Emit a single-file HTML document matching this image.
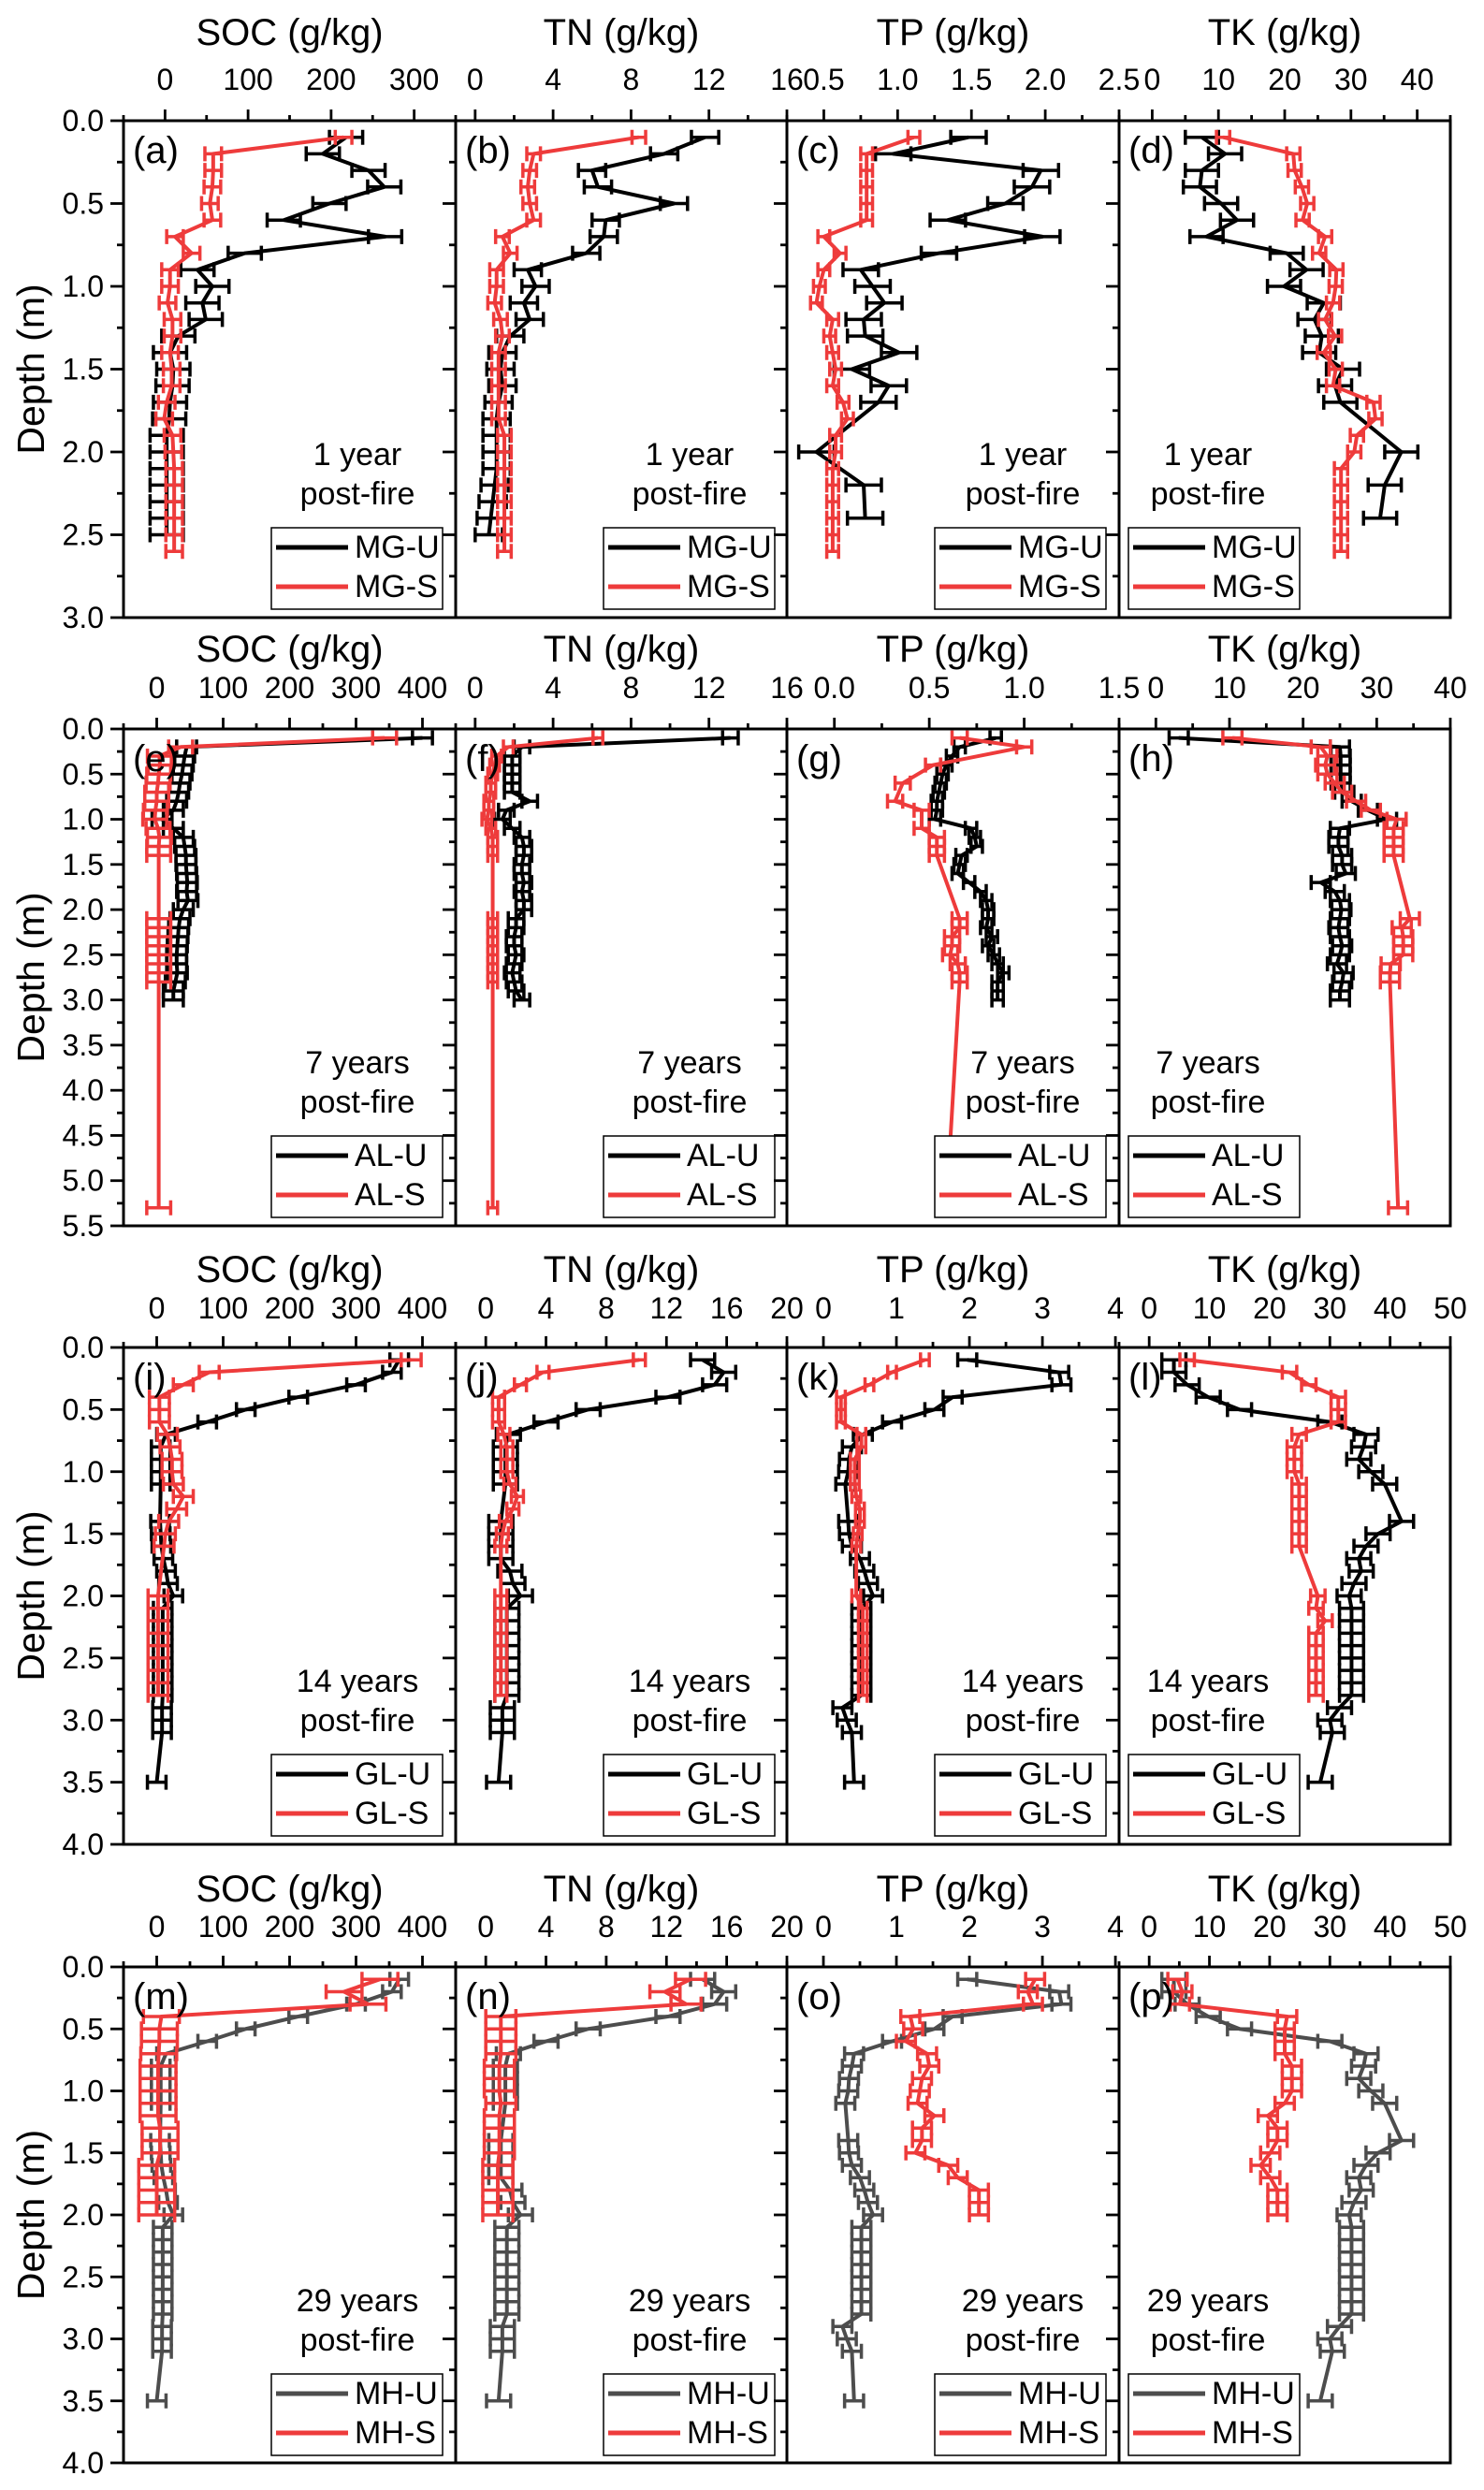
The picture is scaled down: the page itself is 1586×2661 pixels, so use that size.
<!DOCTYPE html>
<html><head><meta charset="utf-8"><title>Soil nutrient depth profiles</title>
<style>
html,body{margin:0;padding:0;background:#fff;}
svg{display:block;font-family:"Liberation Sans",Arial,sans-serif;}
</style></head>
<body>
<svg id="fig" width="1586" height="2661" viewBox="0 0 1586 2661" xmlns="http://www.w3.org/2000/svg"></svg>
<script>
// ---------- tick label arrays ----------
const socTicks1=[0,100,200,300];
const socTicks2=[0,100,200,300,400];
const tnTicks1=[0,4,8,12,16];
const tnTicks2=[0,4,8,12,16,20];
const tpTicks1=[0.5,1.0,1.5,2.0,2.5];
const tpTicks2=[0.0,0.5,1.0,1.5];
const tpTicks3=[0,1,2,3,4];
const tkTicks1=[0,10,20,30,40];
const tkTicks3=[0,10,20,30,40,50];
const depthTicks1=[0,0.5,1,1.5,2,2.5,3];
const depthTicks2=[0,0.5,1,1.5,2,2.5,3,3.5,4,4.5,5,5.5];
const depthTicks3=[0,0.5,1,1.5,2,2.5,3,3.5,4];

// ---------- depth arrays ----------
const dep25=[0.1,0.2,0.3,0.4,0.5,0.6,0.7,0.8,0.9,1.0,1.1,1.2,1.3,1.4,1.5,1.6,1.7,1.8,1.9,2.0,2.1,2.2,2.3,2.4,2.5];
const dep26=[0.1,0.2,0.3,0.4,0.5,0.6,0.7,0.8,0.9,1.0,1.1,1.2,1.3,1.4,1.5,1.6,1.7,1.8,1.9,2.0,2.1,2.2,2.3,2.4,2.5,2.6];
const dep20gap=[0.1,0.2,0.3,0.4,0.5,0.6,0.7,0.8,0.9,1.0,1.1,1.2,1.3,1.4,1.5,1.6,1.7,2.0,2.2,2.4];
const dep30=[0.1,0.2,0.3,0.4,0.5,0.6,0.7,0.8,0.9,1.0,1.1,1.2,1.3,1.4,1.5,1.6,1.7,1.8,1.9,2.0,2.1,2.2,2.3,2.4,2.5,2.6,2.7,2.8,2.9,3.0];
const depAlS=[0.1,0.2,0.3,0.4,0.5,0.6,0.7,0.8,0.9,1.0,1.1,1.2,1.3,1.4,2.1,2.2,2.3,2.4,2.5,2.6,2.7,2.8,5.3];
const depAlSg=[0.1,0.2,0.4,0.6,0.8,0.9,1.1,1.2,1.3,1.4,2.1,2.2,2.3,2.4,2.5,2.6,2.7,2.8,5.3];
const depGlU=[0.1,0.2,0.3,0.4,0.5,0.6,0.7,0.8,0.9,1.0,1.1,1.4,1.5,1.6,1.7,1.8,1.9,2.0,2.1,2.2,2.3,2.4,2.5,2.6,2.7,2.8,2.9,3.0,3.1,3.5];
const depGlS=[0.1,0.2,0.3,0.4,0.5,0.6,0.7,0.8,0.9,1.0,1.1,1.2,1.3,1.4,1.5,1.6,2.0,2.1,2.2,2.3,2.4,2.5,2.6,2.7,2.8];
const depMhS=[0.1,0.2,0.3,0.4,0.5,0.6,0.7,0.8,0.9,1.0,1.1,1.2,1.3,1.4,1.5,1.6,1.7,1.8,1.9,2.0];

// ---------- series values ----------
const aU=[218,190,245,264,198,143,265,96,39,57,45,49,16,6,10,9,6,5,2,2,2,2,2,2,2];
const aS=[215,58,58,57,54,57,12,32,6,6,3,9,9,6,8,8,2,-1,9,10,11,11,11,11,11,11];
const bU=[11.8,9.7,6.0,6.3,10.2,6.7,6.6,5.7,2.7,3.1,2.5,2.8,1.8,1.4,1.3,1.4,1.2,1.1,1.1,1.1,1.1,1.0,0.9,0.8,0.7];
const bS=[8.4,3.0,2.8,2.7,2.8,3.0,1.4,1.8,1.1,1.1,1.0,1.3,1.4,1.2,1.2,1.2,1.2,1.2,1.5,1.5,1.5,1.5,1.5,1.5,1.5,1.5];
const cU=[1.48,0.97,1.97,1.91,1.73,1.34,1.98,1.28,0.75,0.83,0.91,0.77,0.78,1.01,0.69,0.94,0.87,0.45,0.77,0.78];
const cS=[1.11,0.79,0.79,0.79,0.79,0.79,0.5,0.61,0.5,0.47,0.45,0.56,0.54,0.56,0.58,0.56,0.63,0.66,0.58,0.58,0.56,0.56,0.56,0.56,0.56,0.56];
const dU=[7.5,11,7.5,7.2,10.4,12.8,8.2,20.3,23.3,19.9,25.9,24.5,25.6,25.2,28.8,27.6,28.4,37.6,35.1,34.4];
const dS=[10.7,21.3,21.5,22.6,23.4,22.7,26.1,25.2,27.8,27.7,27.3,26.1,27.6,25.9,27.7,27.3,33.4,33.7,30.9,30.5,28.5,28.5,28.5,28.5,28.5,28.5];

const eU=[400,45,42,40,38,35,33,30,25,8,25,40,42,44,44,45,46,45,47,40,35,33,32,31,30,30,31,28,25,25];
const eS=[343,36,4,5,3,2,0,0,-2,-3,2,4,3,3,3,3,3,3,3,3,3,3,3];
const fU=[13.1,2.4,1.9,1.9,1.9,1.9,1.9,2.8,1.6,1.4,1.9,2.4,2.5,2.5,2.4,2.4,2.5,2.4,2.5,2.5,2.1,2.1,2.0,2.0,2.1,2.0,1.9,2.0,2.1,2.4];
const fS=[6.3,1.7,1.1,1.0,0.9,0.8,0.8,0.7,0.7,0.6,0.8,0.9,0.9,0.9,0.9,0.9,0.9,0.9,0.9,0.9,0.9,0.9,0.9];
const gU=[0.85,0.66,0.62,0.59,0.57,0.56,0.55,0.54,0.54,0.53,0.72,0.74,0.75,0.67,0.66,0.65,0.71,0.77,0.80,0.81,0.81,0.80,0.83,0.81,0.84,0.86,0.89,0.86,0.86,0.86];
const gS=[0.66,1.0,0.52,0.36,0.32,0.46,0.46,0.54,0.54,0.54,0.66,0.66,0.62,0.62,0.61,0.65,0.66,0.66,0.59];
const hU=[3.1,25,25.1,25.1,25.1,25.1,25.6,26.6,28.8,31.4,25,24.8,24.8,25.3,25.3,25.8,22.4,24.3,25,25.2,25,24.8,25,25.3,25,24.6,25.5,25.3,25,25];
const hS=[10.4,22.4,23.3,23,23.3,24.3,25.3,27.2,29.2,32.7,32.3,32.3,32.3,32.3,34.5,33.4,33.6,33.6,33.6,31.9,31.8,31.8,32.9];

const iU=[365,354,300,213,134,76,14,6,6,6,6,5,6,7,10,14,17,25,9,9,9,9,9,9,9,9,8,8,8,0];
const iS=[383,79,40,4,4,4,16,20,23,23,25,40,30,18,13,11,2,2,2,2,2,2,2,2,2];
const jU=[14.4,15.8,15.2,12.1,6.8,4.0,1.5,1.3,1.3,1.3,1.3,1.0,1.0,1.0,1.0,1.6,1.8,2.3,1.4,1.4,1.4,1.4,1.4,1.4,1.4,1.4,1.1,1.1,1.1,0.85];
const jS=[10.2,3.8,2.3,0.85,0.85,0.85,1.2,1.4,1.4,1.4,1.6,2.1,1.8,1.3,1.1,1.0,1.0,1.0,1.0,1.0,1.0,1.0,1.0,1.0,1.0];
const kU=[1.97,3.23,3.26,1.77,1.52,0.94,0.54,0.39,0.35,0.34,0.30,0.34,0.35,0.39,0.50,0.56,0.61,0.68,0.52,0.52,0.52,0.52,0.52,0.52,0.52,0.52,0.26,0.32,0.39,0.42];
const kS=[1.39,0.94,0.63,0.24,0.24,0.24,0.52,0.52,0.43,0.43,0.43,0.45,0.50,0.50,0.47,0.45,0.45,0.54,0.54,0.54,0.54,0.54,0.54,0.54,0.54];
const lU=[4.1,4.1,6.3,9.8,15,30,36,35.6,34.8,36.8,39.1,41.9,38,36,34.8,35.2,34,33.2,33.6,33.6,33.6,33.6,33.6,33.6,33.6,33.6,31.6,30,30.4,28.4];
const lS=[6.3,23.3,26.5,31.4,31.4,31.4,24.9,24.1,24.1,24.1,24.9,24.9,24.9,24.9,24.9,24.9,28,27.7,29.2,27.7,27.7,27.7,27.7,27.7,27.7];

const mU=[365,354,300,213,134,76,14,6,6,6,6,5,6,7,10,14,17,25,9,9,9,9,9,9,9,9,8,8,8,0];
const mS=[336,282,318,7,4,4,3,2,2,2,2,2,5,5,5,0,0,0,0,0];
const nU=[14.4,15.8,15.2,12.1,6.8,4.0,1.5,1.3,1.3,1.3,1.3,1.0,1.0,1.0,1.0,1.6,1.8,2.3,1.4,1.4,1.4,1.4,1.4,1.4,1.4,1.4,1.1,1.1,1.1,0.85];
const nS=[13.6,11.9,13.3,1.0,1.0,1.0,1.0,0.9,0.9,0.9,1.0,0.9,0.9,0.9,0.9,0.8,0.8,0.8,0.8,0.8];
const oU=[1.97,3.23,3.26,1.77,1.52,0.94,0.42,0.39,0.35,0.34,0.30,0.34,0.35,0.39,0.50,0.56,0.61,0.68,0.52,0.52,0.52,0.52,0.52,0.52,0.52,0.52,0.26,0.32,0.39,0.42];
const oS=[2.9,2.8,2.87,1.19,1.23,1.13,1.42,1.45,1.35,1.32,1.29,1.52,1.35,1.35,1.26,1.71,1.84,2.13,2.13,2.13];
const pU=[4.1,4.1,6.3,9.8,15,30,36,35.6,34.8,36.8,39.1,41.9,38,36,34.8,35.2,34,33.2,33.6,33.6,33.6,33.6,33.6,33.6,33.6,33.6,31.6,30,30.4,28.4];
const pS=[4.7,5.5,5.1,22.9,22.5,22.5,22.5,23.7,23.7,23.7,22.5,19.7,21.3,21.3,20.1,18.5,20.1,21.3,21.3,21.3];

// ---------- layout ----------
const NS="http://www.w3.org/2000/svg";
const svg=document.getElementById('fig');
const XS=[132,487,841,1196,1550];
const RED="#ee3b3b";
function el(tag,attrs,parent){const e=document.createElementNS(NS,tag);for(const k in attrs)e.setAttribute(k,attrs[k]);(parent||svg).appendChild(e);return e;}
function fmt(v,dec){return dec?v.toFixed(1):String(v);}

const rows=[
 {top:129,h:531,dmax:3,dticks:depthTicks1,titleY:35,tickY:85,age:["1 year","post-fire"],site:"MG",uCol:"#000",
  axes:[{min:-50,max:350,major:100,ticks:socTicks1,dec:false},{min:-1,max:16,major:4,ticks:tnTicks1,dec:false},{min:0.25,max:2.5,major:0.5,ticks:tpTicks1,dec:true},{min:-5,max:45,major:10,ticks:tkTicks1,dec:false}],
  series:[[dep25,aU,20,dep26,aS,10],[dep25,bU,0.7,dep26,bS,0.35],[dep20gap,cU,0.12,dep26,cS,0.04],[dep20gap,dU,2.5,dep26,dS,1.0]],
  labels:["(a)","(b)","(c)","(d)"]},
 {top:779,h:531,dmax:5.5,dticks:depthTicks2,titleY:694,tickY:735,age:["7 years","post-fire"],site:"AL",uCol:"#000",
  axes:[{min:-50,max:450,major:100,ticks:socTicks2,dec:false},{min:-1,max:16,major:4,ticks:tnTicks1,dec:false},{min:-0.25,max:1.5,major:0.5,ticks:tpTicks2,dec:true},{min:-5,max:40,major:10,ticks:tkTicks1,dec:false}],
  series:[[dep30,eU,15,depAlS,eS,18],[dep30,fU,0.4,depAlS,fS,0.25],[dep30,gU,0.03,depAlSg,gS,0.04],[dep30,hU,1.3,depAlS,hS,1.3]],
  labels:["(e)","(f)","(g)","(h)"]},
 {top:1440,h:531,dmax:4,dticks:depthTicks3,titleY:1357,tickY:1398,age:["14 years","post-fire"],site:"GL",uCol:"#000",
  axes:[{min:-50,max:450,major:100,ticks:socTicks2,dec:false},{min:-2,max:20,major:4,ticks:tnTicks2,dec:false},{min:-0.5,max:4.05,major:1,ticks:tpTicks3,dec:false},{min:-5,max:50,major:10,ticks:tkTicks3,dec:false}],
  series:[[depGlU,iU,14,depGlS,iS,15],[depGlU,jU,0.8,depGlS,jS,0.4],[depGlU,kU,0.13,depGlS,kS,0.06],[depGlU,lU,2,depGlS,lS,1.2]],
  labels:["(i)","(j)","(k)","(l)"]},
 {top:2102,h:530,dmax:4,dticks:depthTicks3,titleY:2019,tickY:2059,age:["29 years","post-fire"],site:"MH",uCol:"#4d4d4d",
  axes:[{min:-50,max:450,major:100,ticks:socTicks2,dec:false},{min:-2,max:20,major:4,ticks:tnTicks2,dec:false},{min:-0.5,max:4.05,major:1,ticks:tpTicks3,dec:false},{min:-5,max:50,major:10,ticks:tkTicks3,dec:false}],
  series:[[depGlU,mU,14,depMhS,mS,27],[depGlU,nU,0.8,depMhS,nS,1.0],[depGlU,oU,0.13,depMhS,oS,0.13],[depGlU,pU,2,depMhS,pS,1.6]],
  labels:["(m)","(n)","(o)","(p)"]}
];
const names=["SOC","TN","TP","TK"];
const ageDx=[250,250,252,95];

rows.forEach((r,ri)=>{
  const g=el('g',{});
  
  
  const yS=d=>r.top+d/r.dmax*r.h;
  const yl=el('text',{x:0,y:0,'font-size':41,'text-anchor':'middle','dominant-baseline':'central',transform:`translate(33,${r.top+r.h/2}) rotate(-90)`},g);
  yl.textContent='Depth (m)';
  
  
  r.dticks.forEach(d=>{
    const t=el('text',{x:111,y:yS(d),'font-size':32,'text-anchor':'end','dominant-baseline':'central'},g);
    t.textContent=d.toFixed(1);
    
    
  });
  for(let p=0;p<4;p++){
    const L=XS[p],R=XS[p+1],ax=r.axes[p];
    const xS=v=>L+(v-ax.min)/(ax.max-ax.min)*(R-L);
    const pg=el('g',{},g);
    
    
    const tt=el('text',{x:(L+R)/2,y:r.titleY,'font-size':40,'text-anchor':'middle','dominant-baseline':'central'},pg);
    tt.textContent=names[p]+' (g/kg)';
    
    
    const half=ax.major/2;
    for(let k=Math.ceil((ax.min-1e-9)/half);k*half<=ax.max+1e-9;k++){
      const v=k*half;const x=xS(v);const isMaj=Math.abs(Math.round(v/ax.major)*ax.major-v)<1e-9;
      el('line',{x1:x,x2:x,y1:r.top,y2:r.top-(isMaj?12:6),stroke:'#000','stroke-width':2.8},pg);
    }
    ax.ticks.forEach(v=>{
      const t=el('text',{x:xS(v),y:r.tickY,'font-size':32,'text-anchor':'middle','dominant-baseline':'central'},pg);
      t.textContent=fmt(v,ax.dec);
      
      
    });
    for(let d=0;d<=r.dmax+1e-9;d+=0.25){
      const isMaj=Math.abs(Math.round(d/0.5)*0.5-d)<1e-9;
      el('line',{x1:L,x2:L-(isMaj?14:7),y1:yS(d),y2:yS(d),stroke:'#000','stroke-width':2.8},pg);
    }
    const fr=el('rect',{x:L,y:r.top,width:R-L,height:r.h,fill:'none',stroke:'#000','stroke-width':3},pg);
    
    
    const [dU,vU,errU,dS,vS,errS]=r.series[p];
    [[dU,vU,errU,r.uCol,'-U'],[dS,vS,errS,RED,'-S']].forEach(([ds,vs,er,col,suf])=>{
      const sg=el('g',{},pg);
      
      
      vs.forEach((v,i)=>{
        const y=yS(ds[i]),x1=xS(v-er),x2=xS(v+er);
        const eb=el('path',{d:`M${x1},${y}H${x2}M${x1},${y-8}V${y+8}M${x2},${y-8}V${y+8}`,stroke:col,'stroke-width':3.5,fill:'none'},sg);
        
        
      });
      const pts=vs.map((v,i)=>xS(v)+','+yS(ds[i])).join(' ');
      const pl=el('polyline',{points:pts,fill:'none',stroke:col,'stroke-width':4,'stroke-linejoin':'round'},sg);
      
      
    });
    const lb=el('text',{x:L+10,y:r.top+32,'font-size':40,'dominant-baseline':'central'},pg);
    lb.textContent=r.labels[p];
    
    
    const ax2=L+ageDx[p];
    const a1=el('text',{x:ax2,y:r.top+357,'font-size':34,'text-anchor':'middle','dominant-baseline':'central'},pg);
    a1.textContent=r.age[0];
    
    
    const a2=el('text',{x:ax2,y:r.top+399,'font-size':34,'text-anchor':'middle','dominant-baseline':'central'},pg);
    a2.textContent=r.age[1];
    
    
    const bx=L+(p===3?10:158),by=r.top+435;
    const lg=el('g',{},pg);
    
    
    el('rect',{x:bx,y:by,width:183,height:87,fill:'#fff',stroke:'#000','stroke-width':1.5},lg);
    [[r.uCol,'-U',21],[RED,'-S',63]].forEach(([col,suf,dy])=>{
      const le=el('g',{},lg);
      
      
      el('line',{x1:bx+5,x2:bx+82,y1:by+dy,y2:by+dy,stroke:col,'stroke-width':5},le);
      const t=el('text',{x:bx+89,y:by+dy,'font-size':34,'dominant-baseline':'central'},le);
      t.textContent=r.site+suf;
    });
  }
});
</script>
</body></html>
